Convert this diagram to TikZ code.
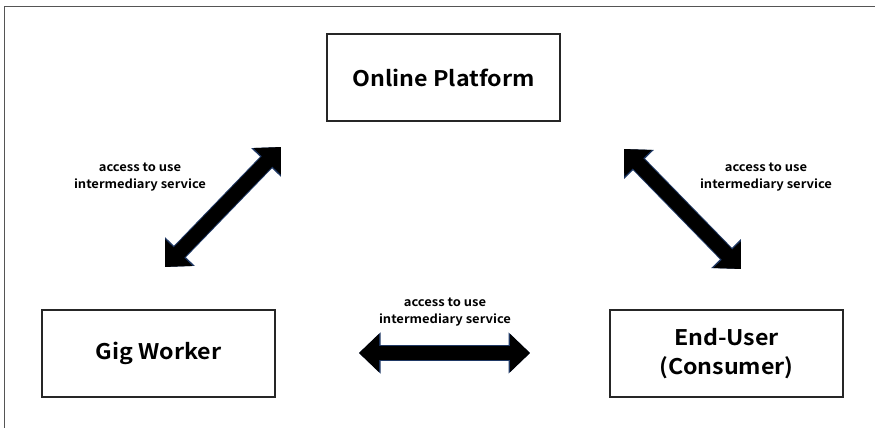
\documentclass[tikz,border=0pt]{standalone}
\usepackage{fontspec}
\setmainfont{Noto Sans CJK JP}[BoldFont={* Bold}, BoldFeatures={FakeStretch=1.08}]
\usetikzlibrary{arrows.meta}
\definecolor{arrowedge}{HTML}{1F3864}
\definecolor{framegray}{HTML}{555555}
\tikzset{
  party/.style={draw=black!85, line width=1.6pt, minimum width=233pt, minimum height=87pt,
    inner sep=0pt, align=center, font=\bfseries\fontsize{21.5}{29}\selectfont},
  flowlabel/.style={align=center, inner sep=0pt, font=\bfseries\fontsize{12}{17}\selectfont},
  dblbase/.style={arrowedge, line width=16.6pt,
    {Triangle[length=21.5pt,width=40pt]}-{Triangle[length=21.5pt,width=40pt]}},
  dbltop/.style={black, line width=14.6pt,
    {Triangle[length=20pt,width=37pt]}-{Triangle[length=20pt,width=37pt]}},
}
\begin{document}
\begin{tikzpicture}[x=1pt,y=-1pt]
  \useasboundingbox (0,0) rectangle (875,428);
  \fill[white] (0,0) rectangle (875,428);
  % outer frame
  \draw[framegray, line width=1.8pt] (4.5,430) -- (4.5,6.5) -- (877,6.5);

  % the three parties
  \node[party] (platform) at (443.5,77.5) {Online Platform};
  \node[party] (worker)   at (158.5,353.5) {Gig Worker};
  \node[party] (user)     at (726.5,353.5) {End-User\\(Consumer)};

  % arrow end points
  \coordinate (wl) at (165,267);
  \coordinate (wp) at (281,147);
  \coordinate (pu) at (624,149);
  \coordinate (ul) at (741,269);
  \coordinate (hw) at (359,353);
  \coordinate (hu) at (530,353);

  \foreach \a/\b in {wl/wp, pu/ul, hw/hu}{
    \draw[dblbase] (\a) -- (\b);
    \draw[dbltop] (\a) -- (\b);
  }

  % labels
  \node[flowlabel] (lwp) at (140,177) {access to use\\intermediary service};
  \node[flowlabel] (lpu) at (766,177) {access to use\\intermediary service};
  \node[flowlabel] (lwu) at (445,312) {access to use\\intermediary service};
\end{tikzpicture}
\end{document}
